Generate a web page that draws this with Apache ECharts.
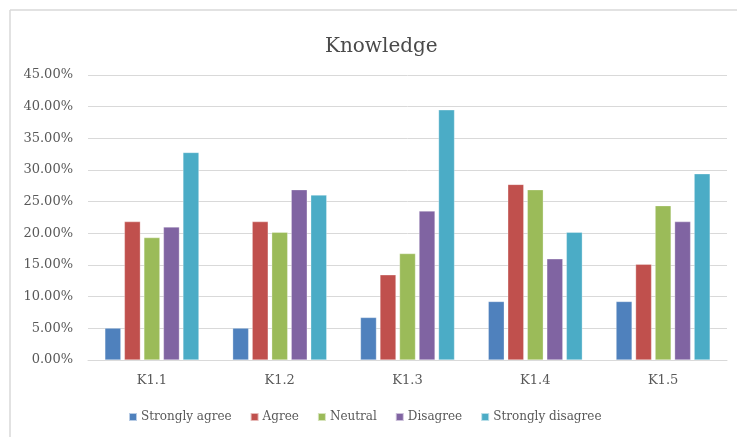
<!DOCTYPE html>
<html>
<head>
<meta charset="utf-8">
<script src="https://cdn.jsdelivr.net/npm/echarts@6/dist/echarts.min.js"></script>
<style>
  html, body { margin: 0; padding: 0; background: #fff; }
  #chart { width: 737px; height: 437px; }
</style>
</head>
<body>
<div id="chart"></div>
<script>
// Survey items and response shares (percent of respondents)
const categories = ['K1.1', 'K1.2', 'K1.3', 'K1.4', 'K1.5'];
const stronglyAgree    = [5.04, 5.04, 6.72, 9.24, 9.24];
const agree            = [21.85, 21.85, 13.45, 27.73, 15.13];
const neutral          = [19.33, 20.17, 16.81, 26.89, 24.37];
const disagree         = [21.01, 26.89, 23.53, 15.97, 21.85];
const stronglyDisagree = [32.77, 26.05, 39.50, 20.17, 29.41];
const seriesNames = ['Strongly agree', 'Agree', 'Neutral', 'Disagree', 'Strongly disagree'];
const seriesValues = [stronglyAgree, agree, neutral, disagree, stronglyDisagree];
const colors = ['#4F81BD', '#C0504D', '#9BBB59', '#8064A2', '#4BACC6'];

const FONT = '"DejaVu Serif", serif';
const chart = echarts.init(document.getElementById('chart'), null, { renderer: 'canvas' });

chart.setOption({
  animation: false,
  color: colors,
  textStyle: { fontFamily: FONT },
  title: {
    text: 'Knowledge',
    left: 320,
    top: 32,
    textStyle: { fontFamily: FONT, fontSize: 20, fontWeight: 'normal', color: '#4a4a4a' }
  },
  legend: {
    data: seriesNames,
    left: 123,
    top: 406,
    icon: 'rect',
    itemWidth: 8,
    itemHeight: 8,
    itemGap: 18,
    textStyle: { fontFamily: FONT, fontSize: 12, color: '#595959', padding: [0, 0, 0, -1] }
  },
  grid: { left: 88, right: 10, top: 75, bottom: 77 },
  xAxis: {
    type: 'category',
    data: categories,
    axisTick: { show: false },
    axisLine: { lineStyle: { color: '#d9d9d9', width: 1 } },
    axisLabel: { fontFamily: FONT, fontSize: 13, color: '#595959', margin: 14 }
  },
  yAxis: {
    type: 'value',
    min: 0,
    max: 45,
    interval: 5,
    axisLine: { show: false },
    axisTick: { show: false },
    splitLine: { lineStyle: { color: '#d9d9d9', width: 1 } },
    axisLabel: {
      fontFamily: FONT, fontSize: 13, color: '#595959', margin: 15,
      formatter: v => v.toFixed(2) + '%'
    }
  },
  series: seriesNames.map((name, i) => ({
    name,
    type: 'bar',
    data: seriesValues[i],
    barWidth: 16,
    barGap: '22%',
    itemStyle: { color: colors[i], borderColor: 'rgba(255,255,255,0.6)', borderWidth: 0.5 }
  })),
  graphic: [
    { type: 'line', shape: { x1: 10, y1: 10, x2: 10, y2: 437 }, style: { stroke: '#d9d9d9', lineWidth: 1.5 } },
    { type: 'line', shape: { x1: 10, y1: 10, x2: 737, y2: 10 }, style: { stroke: '#d9d9d9', lineWidth: 1.5 } }
  ]
});
</script>
</body>
</html>
